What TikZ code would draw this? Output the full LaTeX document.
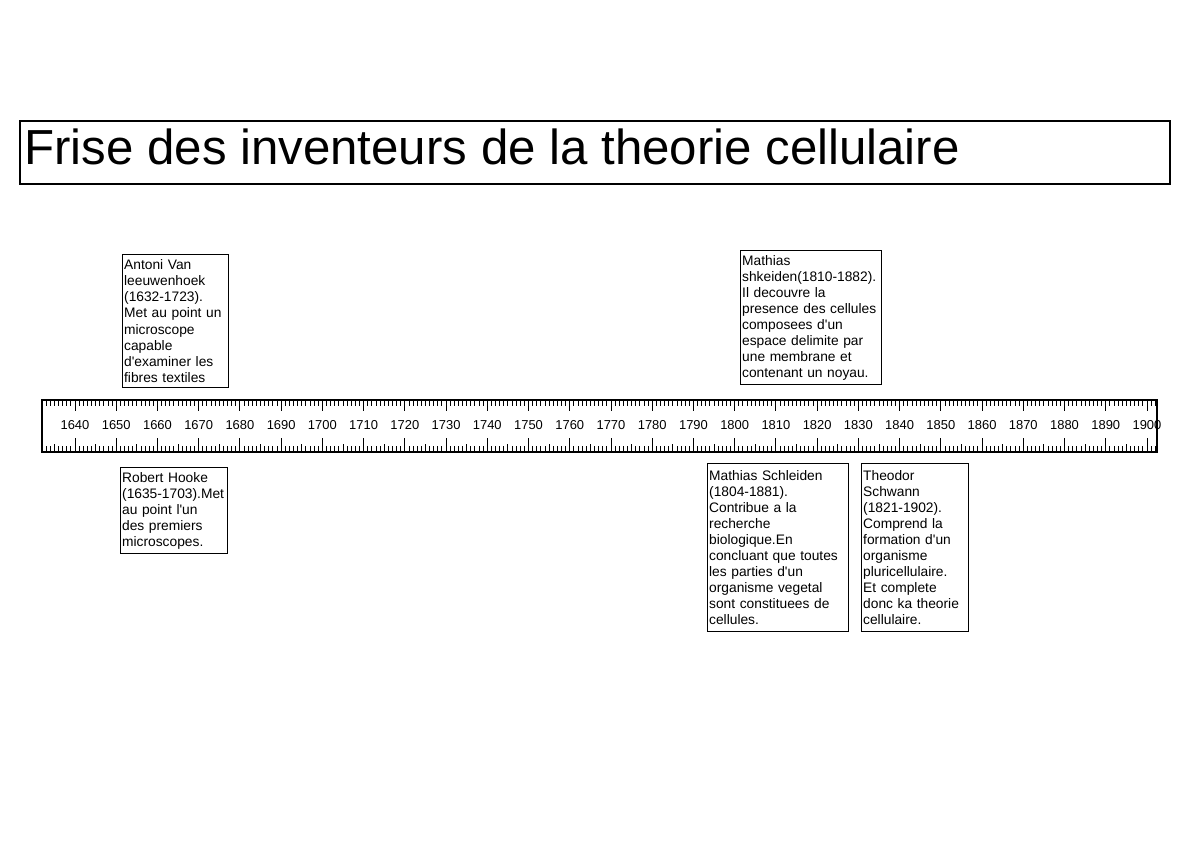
\documentclass[tikz,border=0pt]{standalone}
\usepackage{fontspec}
\setmainfont{Liberation Sans}
\usepackage{tikz}

\newcommand{\apos}{\textquotesingle}
\tikzset{evtbox/.style={draw = black, line width = 0.8pt, anchor = north west, align = left,
  inner xsep = 0.04cm, inner ysep = 0.05cm, font = \fontsize{9.8}{11.4}\selectfont}}

\begin{document}
\begin{tikzpicture}[x = 0.025cm, y = -0.025cm]
\useasboundingbox [fill = white] (0, 0) rectangle (1200, 850);

% title
\draw [black, line width = 0.8pt] (20, 121) rectangle (1170, 184);
\node [anchor = base west, inner sep = 0, font = \fontsize{35}{40}\selectfont] (title) at (24, 164) {Frise des inventeurs de la theorie cellulaire};

% ruler
\draw [black, line width = 0.8pt] (42, 400) rectangle (1157, 452);
\foreach \yr in {1632, ..., 1902} {
  \pgfmathsetmacro{\xx}{75 + (\yr - 1640)*4.123}
  \pgfmathsetmacro{\tlen}{mod(\yr, 10) == 0 ? 11 : 6}
  \pgfmathsetmacro{\blen}{mod(\yr, 10) == 0 ? 14 : (mod(\yr, 5) == 0 ? 8 : 6)}
  \draw [black, line width = 0.65pt] (\xx, 400) -- ++(0, \tlen);
  \draw [black, line width = 0.65pt] (\xx, 452) -- ++(0, -\blen);
}
\foreach \yr in {1640, 1650, ..., 1900} {
  \pgfmathsetmacro{\xx}{75 + (\yr - 1640)*4.123}
  \node [font = \fontsize{9.2}{10}\selectfont, inner sep = 0] (y\yr) at (\xx, 425) {\yr};
}

% above the ruler
\node [evtbox, text width = 2.57cm, minimum height = 3.325cm] (leeuwenhoek) at (122, 254)
  {Antoni Van\\ leeuwenhoek\\ (1632-1723).\\ Met au point un\\ microscope\\ capable\\ d\apos examiner les\\ fibres textiles};
\node [evtbox, text width = 3.445cm, minimum height = 3.35cm] (shkeiden) at (740, 250)
  {Mathias\\ shkeiden(1810-1882).\\ Il decouvre la\\ presence des cellules\\ composees d\apos un\\ espace delimite par\\ une membrane et\\ contenant un noyau.};

% below the ruler
\node [evtbox, text width = 2.595cm, minimum height = 2.15cm] (hooke) at (120, 467)
  {Robert Hooke\\ (1635-1703).Met\\ au point l\apos un\\ des premiers\\ microscopes.};
\node [evtbox, text width = 3.445cm, minimum height = 4.2cm] (schleiden) at (707, 463)
  {Mathias Schleiden\\ (1804-1881).\\ Contribue a la\\ recherche\\ biologique.En\\ concluant que toutes\\ les parties d\apos un\\ organisme vegetal\\ sont constituees de\\ cellules.};
\node [evtbox, text width = 2.595cm, minimum height = 4.2cm] (schwann) at (861, 463)
  {Theodor\\ Schwann\\ (1821-1902).\\ Comprend la\\ formation d\apos un\\ organisme\\ pluricellulaire.\\ Et complete\\ donc ka theorie\\ cellulaire.};

\end{tikzpicture}
\end{document}
